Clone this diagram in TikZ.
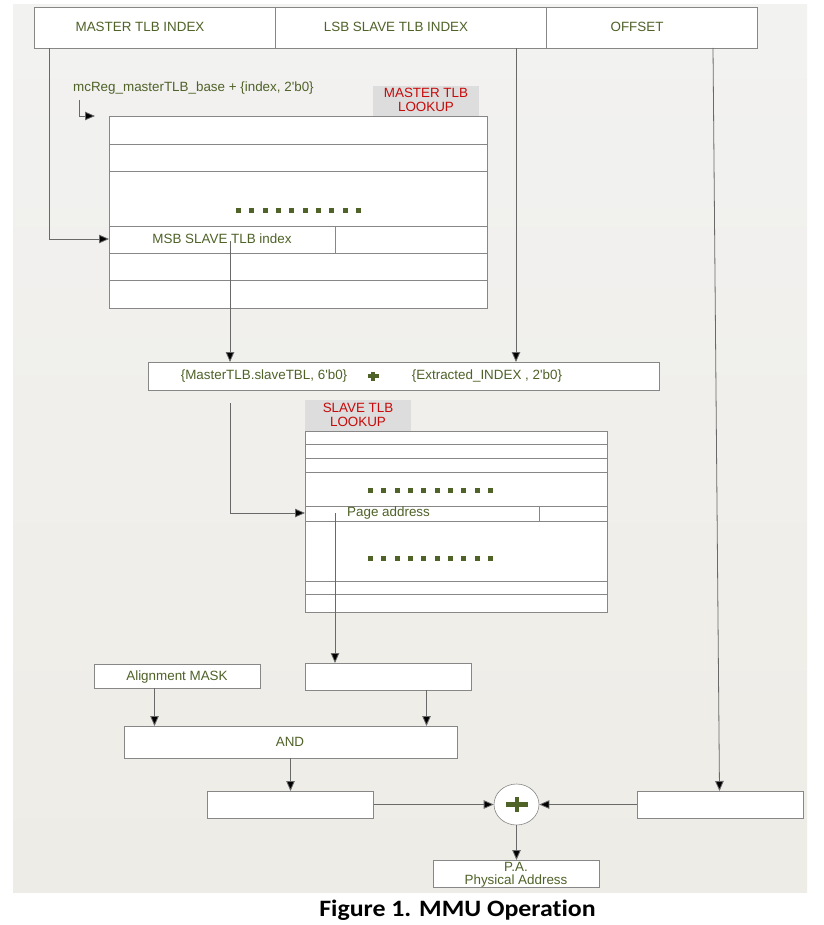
\documentclass[tikz,border=0pt]{standalone}
\usepackage{fontspec}
\setmainfont{Liberation Sans}
\newfontfamily\diagfont{Liberation Sans}
\newfontfamily\capfont[FakeStretch=1.1,Ligatures=NoCommon]{Carlito}
\usetikzlibrary{arrows.meta,shapes.geometric,calc}
\definecolor{txtgreen}{RGB}{79,98,40}
\definecolor{lblred}{RGB}{200,10,10}
\definecolor{lblgray}{RGB}{221,221,221}
\definecolor{bgtop}{RGB}{242,242,241}
\definecolor{bgbot}{RGB}{238,236,230}
\definecolor{boxline}{RGB}{135,135,135}
\definecolor{conline}{RGB}{105,105,105}
\begin{document}
\begin{tikzpicture}[x=1pt,y=-1pt,
  box/.style={draw=boxline, fill=white, line width=0.9pt, inner sep=0pt, anchor=north west},
  txt/.style={inner sep=0pt, text=txtgreen, font=\diagfont\fontsize{13.4}{14}\selectfont},
  lbl/.style={fill=lblgray, inner sep=0pt, anchor=north west},
  lbltxt/.style={inner sep=0pt, text=lblred, align=center, font=\diagfont\fontsize{13.4}{14}\selectfont},
  rowline/.style={draw=boxline, line width=0.9pt},
  conn/.style={draw=conline, line width=0.8pt},
  arr/.style={conn, -{Triangle[length=10pt,width=8.5pt,fill=black]}},
  dotsq/.style={fill=txtgreen},
  plusbar/.style={draw=txtgreen, line width=4.5pt}
]
\useasboundingbox (0,0) rectangle (823,925);
% background
\fill[white] (0,0) rectangle (823,925);
\shade[top color=bgtop, bottom color=bgbot] (13,5) rectangle (807,892);

% top bar
\node[box, minimum width=241pt, minimum height=41pt] (mfield) at (34,7) {};
\node[box, minimum width=271pt, minimum height=41pt] (lfield) at (275,7) {};
\node[box, minimum width=211pt, minimum height=41pt] (ofield) at (546,7) {};
\node[txt] (mtxt) at (140,27) {MASTER TLB INDEX};
\node[txt] (ltxt) at (396,27) {LSB SLAVE TLB INDEX};
\node[txt] (otxt) at (637,27) {OFFSET};

% master base text and elbow
\node[txt, anchor=west] (base) at (73,88) {mcReg\_masterTLB\_base + \{index, 2'b0\}};
\coordinate (elbowA) at (79,100);
\coordinate (elbowB) at (95,116);
\draw[arr] (elbowA) |- (elbowB);

% master table
\node[lbl, minimum width=106pt, minimum height=31pt] (mlbl) at (373,86) {};
\node[lbltxt] (mlbltxt) at (426,100) {MASTER TLB\\LOOKUP};
\node[box, minimum width=378pt, minimum height=192pt] (mtab) at (109,116) {};
\foreach \yy in {144,171,226,253,280} \draw[rowline] (109,\yy) -- (487,\yy);
\draw[rowline] (335,226) -- (335,253);
\foreach \i in {0,...,9} \fill[dotsq] (236+\i*13.33,208) rectangle ++(5,5);
\node[txt] (msbtxt) at (222,239) {MSB SLAVE TLB index};

% connectors from top bar
\coordinate (mdrop) at (49,48);
\coordinate (msbin) at (109,239);
\draw[arr] (mdrop) |- (msbin);

% concat box
\node[box, minimum width=511pt, minimum height=28pt] (concat) at (148,362) {};
\node[txt] (c1) at (264,376) {\{MasterTLB.slaveTBL, 6'b0\}};
\node[txt] (c2) at (487,376) {\{Extracted\_INDEX , 2'b0\}};
\draw[draw=txtgreen, line width=3.4pt] (367.5,376) -- (378.5,376) (373,371.5) -- (373,380.5);
\coordinate (msbout) at (230,241);
\coordinate (concatA) at (230,362);
\draw[arr] (msbout) -- (concatA);
\coordinate (lsbdrop) at (516,48);
\coordinate (concatB) at (516,362);
\draw[arr] (lsbdrop) -- (concatB);

% slave table
\node[lbl, minimum width=106pt, minimum height=31pt] (slbl) at (305,400) {};
\node[lbltxt] (slbltxt) at (358,415) {SLAVE TLB\\LOOKUP};
\node[box, minimum width=302pt, minimum height=181pt] (stab) at (305,431) {};
\foreach \yy in {444,458,472,506,521,581,594} \draw[rowline] (305,\yy) -- (607,\yy);
\draw[rowline] (539,506) -- (539,521);
\foreach \i in {0,...,9} {
  \fill[dotsq] (368+\i*13.33,488) rectangle ++(5,5);
  \fill[dotsq] (368+\i*13.33,556) rectangle ++(5,5);
}
\node[txt, anchor=west] (pagetxt) at (347,513) {Page address};
\coordinate (concatout) at (230,403);
\coordinate (pagein) at (305,513);
\draw[arr] (concatout) |- (pagein);

% lower boxes
\node[box, minimum width=166pt, minimum height=24pt] (mask) at (94,664) {};
\node[txt] (masktxt) at (177,677) {Alignment MASK};
\node[box, minimum width=166pt, minimum height=27pt] (pagebox) at (305,663) {};
\coordinate (pageout) at (335,513);
\draw[arr] (pageout) -- (pageout |- pagebox.north);
\node[box, minimum width=333pt, minimum height=32pt] (andbox) at (124,726) {};
\node[txt] (andtxt) at (290,742) {AND};
\draw[arr] (154.5,688) -- (154.5,726);
\draw[arr] (426.5,690) -- (426.5,726);
\node[box, minimum width=166pt, minimum height=27pt] (lres) at (207,791) {};
\node[box, minimum width=166pt, minimum height=27pt] (rres) at (637,791) {};
\draw[arr] (290.5,758) -- (290.5,791);
\coordinate (offdrop) at (713,48);
\coordinate (offin) at (719.5,791);
\draw[arr] (offdrop) -- (offin);

% adder
\node[ellipse, draw=boxline, fill=white, line width=0.6pt, minimum width=45pt, minimum height=41pt, inner sep=0pt] (adder) at (516.5,804.5) {};
\draw[plusbar] (506,804.5) -- (528,804.5) (517,797) -- (517,812);
\draw[arr] (lres.east |- adder.west) -- (adder.west);
\draw[arr] (rres.west |- adder.east) -- (adder.east);

% physical address
\node[box, minimum width=166pt, minimum height=27pt] (pa) at (433,860) {};
\draw[arr] (adder.south) -- (adder.south |- pa.north);
\node[txt] (patxt1) at (516,867) {P.A.};
\node[txt] (patxt2) at (516,881) {Physical Address};

% caption
\node[inner sep=0pt, anchor=base, font=\capfont\bfseries\fontsize{23.5}{26}\selectfont] (caption) at (457.5,916) {Figure 1. MMU Operation};
\end{tikzpicture}
\end{document}
